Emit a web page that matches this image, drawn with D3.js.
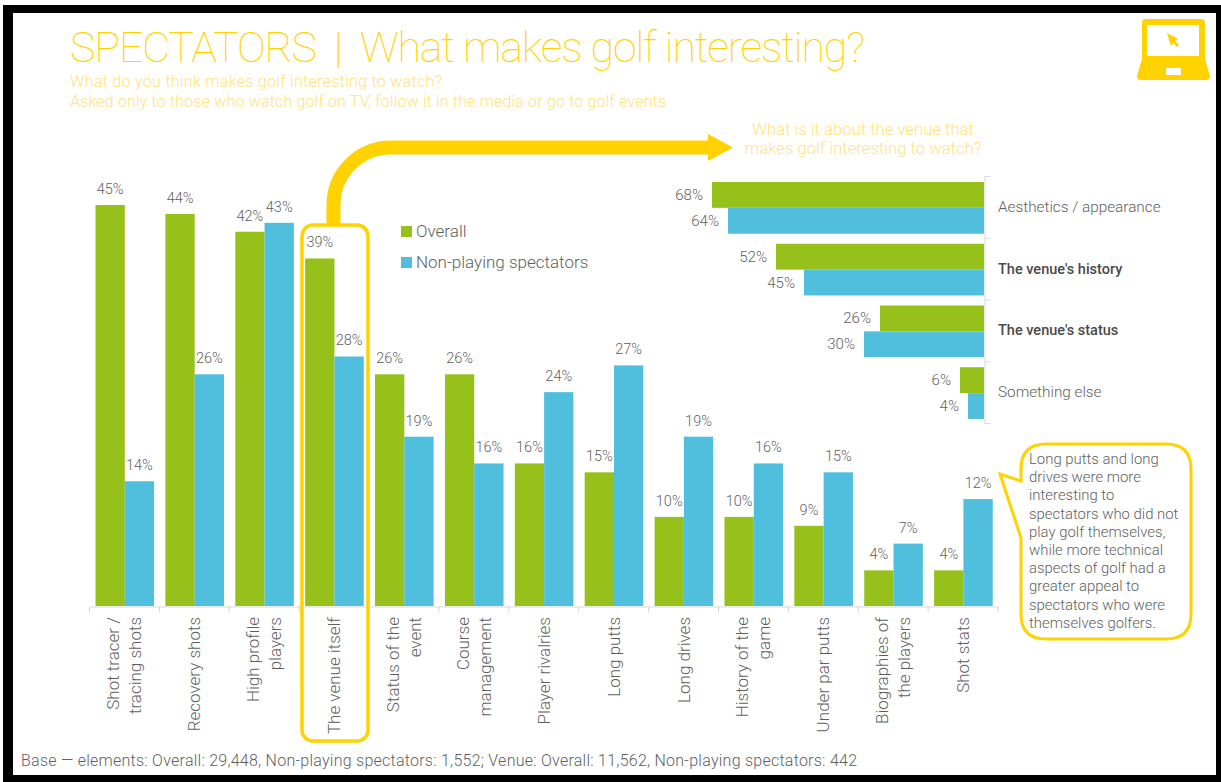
<!DOCTYPE html>
<html><head><meta charset="utf-8">
<script src="https://cdn.jsdelivr.net/npm/d3@7"></script>
<style>
html,body{margin:0;padding:0;background:#fff}
svg{display:block}
text{font-family:Roboto,"Open Sans",sans-serif;font-weight:300;}
</style></head><body>
<svg id="c" width="1221" height="782"></svg>
<script>
const categories=[["Shot tracer /","tracing shots"],["Recovery shots"],["High profile","players"],["The venue itself"],["Status of the","event"],["Course","management"],["Player rivalries"],["Long putts"],["Long drives"],["History of the","game"],["Under par putts"],["Biographies of","the players"],["Shot stats"]];
const overall=[45,44,42,39,26,26,16,15,10,10,9,4,4];
const nonPlaying=[14,26,43,28,19,16,24,27,19,16,15,7,12];
const venueCategories=["Aesthetics / appearance","The venue's history","The venue's status","Something else"];
const venueBold=[false,true,true,false];
const venueOverall=[68,52,26,6];
const venueNonPlaying=[64,45,30,4];
const seriesNames=["Overall","Non-playing spectators"];
const calloutLines=["Long putts and long","drives were more","interesting to","spectators who did not","play golf themselves,","while more technical","aspects of golf had a","greater appeal to","spectators who were","themselves golfers."];
const GREEN="#95c11a",BLUE="#50bfdd",YEL="#ffd200",PALE="#ffe282",GREY="#5f5f5f",AX="#d9d9d9";
const svg=d3.select("#c");
// frame
svg.append("rect").attr("x",3).attr("y",5).attr("width",1218).attr("height",777).attr("fill","#000");
svg.append("rect").attr("x",13).attr("y",13).attr("width",1203).attr("height",762).attr("fill","#fff");
// titles
svg.append("text").attr("x",70).attr("y",62).attr("fill",YEL).attr("font-size",43).style("font-weight",100).attr("textLength",795).text("SPECTATORS\u00a0\u00a0|\u00a0\u00a0What makes golf interesting?");
svg.append("text").attr("x",70).attr("y",87).attr("fill",PALE).attr("font-size",16).attr("textLength",372).text("What do you think makes golf interesting to watch?");
svg.append("text").attr("x",70).attr("y",107).attr("fill",PALE).attr("font-size",16).attr("textLength",596).text("Asked only to those who watch golf on TV, follow it in the media or go to golf events");
svg.append("text").attr("x",863).attr("y",135).attr("text-anchor","middle").attr("fill",PALE).attr("font-size",16.7).text("What is it about the venue that");
svg.append("text").attr("x",863).attr("y",154).attr("text-anchor","middle").attr("fill",PALE).attr("font-size",16.7).text("makes golf interesting to watch?");
// main chart
const x=d3.scaleBand().domain(d3.range(categories.length)).range([89.5,998]).paddingInner(0).paddingOuter(0);
const inner=d3.scaleBand().domain([0,1]).range([6,64.6]);
const y=d3.scaleLinear().domain([0,45]).range([606,205]);
const gx=svg.append("g").attr("transform","translate(0,606.5)");
gx.call(d3.axisBottom(x).tickSize(0).tickPadding(0).tickFormat(""));
gx.select(".domain").attr("stroke",AX);
gx.selectAll(".tick text").remove();
gx.selectAll("line.edge").data(d3.range(categories.length+1)).join("line").attr("class","edge")
 .attr("x1",d=>d<categories.length?x(d):x(d-1)+x.bandwidth()).attr("x2",d=>d<categories.length?x(d):x(d-1)+x.bandwidth())
 .attr("y1",0).attr("y2",6).attr("stroke",AX);
categories.forEach((lines,i)=>{
  const cx=x(i)+x.bandwidth()/2;
  lines.forEach((t,j)=>{
    const lx=cx+(lines.length===2?(j===0?-11:11):0)+6;
    svg.append("text").attr("transform",`translate(${lx},617) rotate(-90)`).attr("text-anchor","end").attr("fill",GREY).attr("font-size",17).text(t);
  });
});
[overall,nonPlaying].forEach((vals,s)=>{
  const col=s?BLUE:GREEN;
  svg.append("g").selectAll("rect").data(vals).join("rect")
   .attr("x",(d,i)=>x(i)+inner(s)).attr("width",inner.bandwidth()).attr("y",d=>y(d)).attr("height",d=>y(0)-y(d)).attr("fill",col);
  svg.append("g").selectAll("text").data(vals).join("text")
   .attr("x",(d,i)=>x(i)+inner(s)+inner.bandwidth()/2).attr("y",d=>y(d)-11).attr("text-anchor","middle").attr("fill",GREY).attr("font-size",14.5).text(d=>d+"%");
});
// legend
seriesNames.forEach((n,i)=>{
  const ly=226+i*31;
  svg.append("rect").attr("x",401).attr("y",ly).attr("width",11).attr("height",11).attr("fill",i?BLUE:GREEN);
  svg.append("text").attr("x",416).attr("y",ly+11).attr("fill",GREY).attr("font-size",17).text(n);
});
// highlight + arrow
svg.append("rect").attr("x",302).attr("y",225).attr("width",66).attr("height",516).attr("rx",11).attr("fill","none").attr("stroke",YEL).attr("stroke-width",3.5);
svg.append("path").attr("d","M333.5,224V205A57.5,57.5 0 0 1 391,147.5H710").attr("fill","none").attr("stroke",YEL).attr("stroke-width",14);
svg.append("path").attr("d","M708,134L733,147.5L708,161Z").attr("fill",YEL);
// venue chart
const vx=d3.scaleLinear().domain([0,68]).range([984,712]);
const vy=d3.scaleBand().domain(d3.range(4)).range([176,423]);
const vi=d3.scaleBand().domain([0,1]).range([6,57.7]);
const gv=svg.append("g").attr("transform","translate(984.5,0)");
gv.call(d3.axisRight(vy).tickSize(0).tickFormat(""));
gv.select(".domain").attr("stroke",AX);
gv.selectAll(".tick text").remove();
gv.selectAll("line.edge").data(d3.range(5)).join("line").attr("class","edge")
 .attr("x1",0).attr("x2",6).attr("y1",d=>(d<4?vy(d):vy(3)+vy.bandwidth())+.5).attr("y2",d=>(d<4?vy(d):vy(3)+vy.bandwidth())+.5).attr("stroke",AX);
[venueOverall,venueNonPlaying].forEach((vals,s)=>{
  svg.append("g").selectAll("rect").data(vals).join("rect")
   .attr("x",d=>vx(d)).attr("width",d=>vx(0)-vx(d)).attr("y",(d,i)=>vy(i)+vi(s)).attr("height",vi.bandwidth()).attr("fill",s?BLUE:GREEN);
  svg.append("g").selectAll("text").data(vals).join("text")
   .attr("x",d=>vx(d)-9).attr("y",(d,i)=>vy(i)+vi(s)+vi.bandwidth()/2+5).attr("text-anchor","end").attr("fill",GREY).attr("font-size",15).text(d=>d+"%");
});
svg.append("g").selectAll("text").data(venueCategories).join("text")
 .attr("x",998).attr("y",(d,i)=>vy(i)+vy.bandwidth()/2+5).attr("fill",(d,i)=>venueBold[i]?"#4a4a4a":GREY)
 .attr("font-size",(d,i)=>venueBold[i]?14.5:15.3).style("font-weight",(d,i)=>venueBold[i]?500:300).text(d=>d);
// callout
svg.append("path").attr("d","M1046,444H1166Q1191,444 1191,469V614Q1191,639 1166,639H1046Q1021,639 1021,614V538L1000,474L1021,481V469Q1021,444 1046,444Z").attr("fill","#fff").attr("stroke",YEL).attr("stroke-width",3);
svg.append("g").selectAll("text").data(calloutLines).join("text").attr("x",1029).attr("y",(d,i)=>464+i*18.2).attr("fill",GREY).attr("font-size",14.9).text(d=>d);
// icon
const icon=svg.append("g").attr("fill",YEL);
icon.append("path").attr("d","M1146,19H1201Q1205,19 1205,23V59L1210,76Q1210,80 1206,80H1141Q1137,80 1137,76L1142,59V23Q1142,19 1146,19Z");
icon.append("rect").attr("x",1147).attr("y",25).attr("width",52).attr("height",31).attr("fill","#fff");
icon.append("rect").attr("x",1166).attr("y",68).attr("width",15).attr("height",7).attr("fill","#fff");
icon.append("path").attr("d","M1167,33L1178,39L1175,41L1179,45L1177,47L1173,43L1171,46Z");
// footer
svg.append("text").attr("x",21).attr("y",766).attr("fill",GREY).attr("font-size",16).attr("textLength",836).text("Base \u2014 elements: Overall: 29,448, Non-playing spectators: 1,552; Venue: Overall: 11,562, Non-playing spectators: 442");
</script></body></html>
